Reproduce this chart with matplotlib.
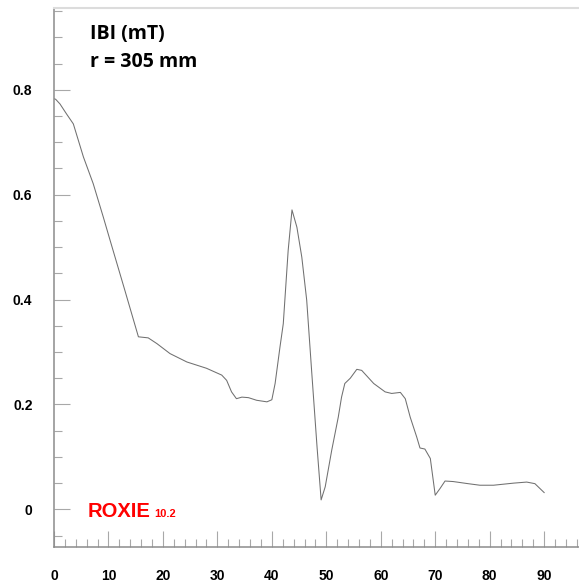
#!/usr/bin/env python3
"""
Field magnitude |B| along the coil at r = 305 mm, ROXIE style plot.
"""
import matplotlib
matplotlib.use("Agg")
import matplotlib.pyplot as plt
from matplotlib.ticker import MultipleLocator, FixedLocator

# Curve samples: position along axis and |B| in mT
pos = [0.0, 0.3, 1.1, 2.3, 3.55, 5.4, 7.2, 9.06, 10.3, 13.0, 14.6, 15.5,
       17.3, 18.9, 21.3, 24.4, 28.0, 30.8, 31.7, 32.6, 33.5, 34.5, 35.7,
       37.2, 39.1, 40.0, 40.6, 41.5, 42.1, 43.0, 43.7, 44.6, 45.5, 46.4,
       47.3, 48.3, 49.05, 49.8, 51.0, 52.2, 52.8, 53.4, 54.4, 55.6, 56.5,
       58.7, 60.8, 62.0, 63.6, 64.5, 65.4, 66.6, 67.2, 68.1, 69.1, 70.0,
       70.9, 71.8, 73.3, 76.0, 78.2, 80.7, 84.4, 86.8, 88.3, 90.0]
bmag = [0.783, 0.782, 0.773, 0.754, 0.735, 0.672, 0.621, 0.557, 0.513, 0.418,
        0.361, 0.329, 0.327, 0.316, 0.297, 0.281, 0.269, 0.256, 0.246, 0.224,
        0.211, 0.214, 0.213, 0.208, 0.205, 0.209, 0.240, 0.310, 0.354, 0.494,
        0.571, 0.538, 0.481, 0.399, 0.265, 0.119, 0.018, 0.043, 0.113, 0.176,
        0.214, 0.240, 0.250, 0.267, 0.265, 0.240, 0.224, 0.221, 0.223, 0.211,
        0.176, 0.138, 0.117, 0.115, 0.097, 0.027, 0.040, 0.054, 0.053, 0.049,
        0.046, 0.046, 0.050, 0.052, 0.049, 0.032]

x_ticks = [0, 10, 20, 30, 40, 50, 60, 70, 80, 90]
y_ticks = [0, 0.2, 0.4, 0.6, 0.8]
y_labels = ["0", "0.2", "0.4", "0.6", "0.8"]

SPINE_GRAY = "#8c8c8c"
TICK_GRAY = "#a8a8a8"

fig = plt.figure(figsize=(5.79, 5.82), dpi=100)
ax = fig.add_axes([54 / 579, 35 / 582, 1 - 54 / 579, 539 / 582])

ax.plot(pos, bmag, color="#707070", lw=0.75)

ax.set_xlim(0, 96.4)
ax.set_ylim(-0.0718, 0.956)

ax.xaxis.set_major_locator(FixedLocator(x_ticks))
ax.xaxis.set_minor_locator(MultipleLocator(2))
ax.yaxis.set_major_locator(FixedLocator(y_ticks))
ax.yaxis.set_minor_locator(MultipleLocator(0.05))
ax.set_yticklabels(y_labels)

ax.tick_params(which="both", direction="in", color=TICK_GRAY, width=0.8)
ax.tick_params(which="major", length=11.5)
ax.tick_params(which="minor", length=5.8)
ax.tick_params(axis="x", which="major", pad=15.5)
ax.tick_params(axis="y", which="major", pad=15.5)
for lab in ax.get_xticklabels() + ax.get_yticklabels():
    lab.set_fontfamily("Liberation Sans")
    lab.set_fontweight("bold")
    lab.set_fontsize(10)

for side in ("left", "bottom"):
    ax.spines[side].set_color(SPINE_GRAY)
    ax.spines[side].set_linewidth(1.1)
ax.spines["top"].set_color("#dcdcdc")
ax.spines["top"].set_linewidth(1.5)
ax.spines["right"].set_visible(False)

ax.text(0.0686, 0.952, "IBI (mT)", transform=ax.transAxes,
        fontsize=14, fontweight="bold", family="Open Sans", va="center")
ax.text(0.0686, 0.900, "r = 305 mm", transform=ax.transAxes,
        fontsize=14, fontweight="bold", family="Open Sans", va="center")

# program tag, version number shares the baseline
ax.text(6.1, -0.0137, "ROXIE", color="#ff0000", fontsize=14.5,
        fontweight="bold", family="Liberation Sans", va="baseline")
ax.text(18.4, -0.0137, "10.2", color="#ff0000", fontsize=8,
        fontweight="bold", family="Liberation Sans", va="baseline")

fig.savefig("out.png", dpi=100)
